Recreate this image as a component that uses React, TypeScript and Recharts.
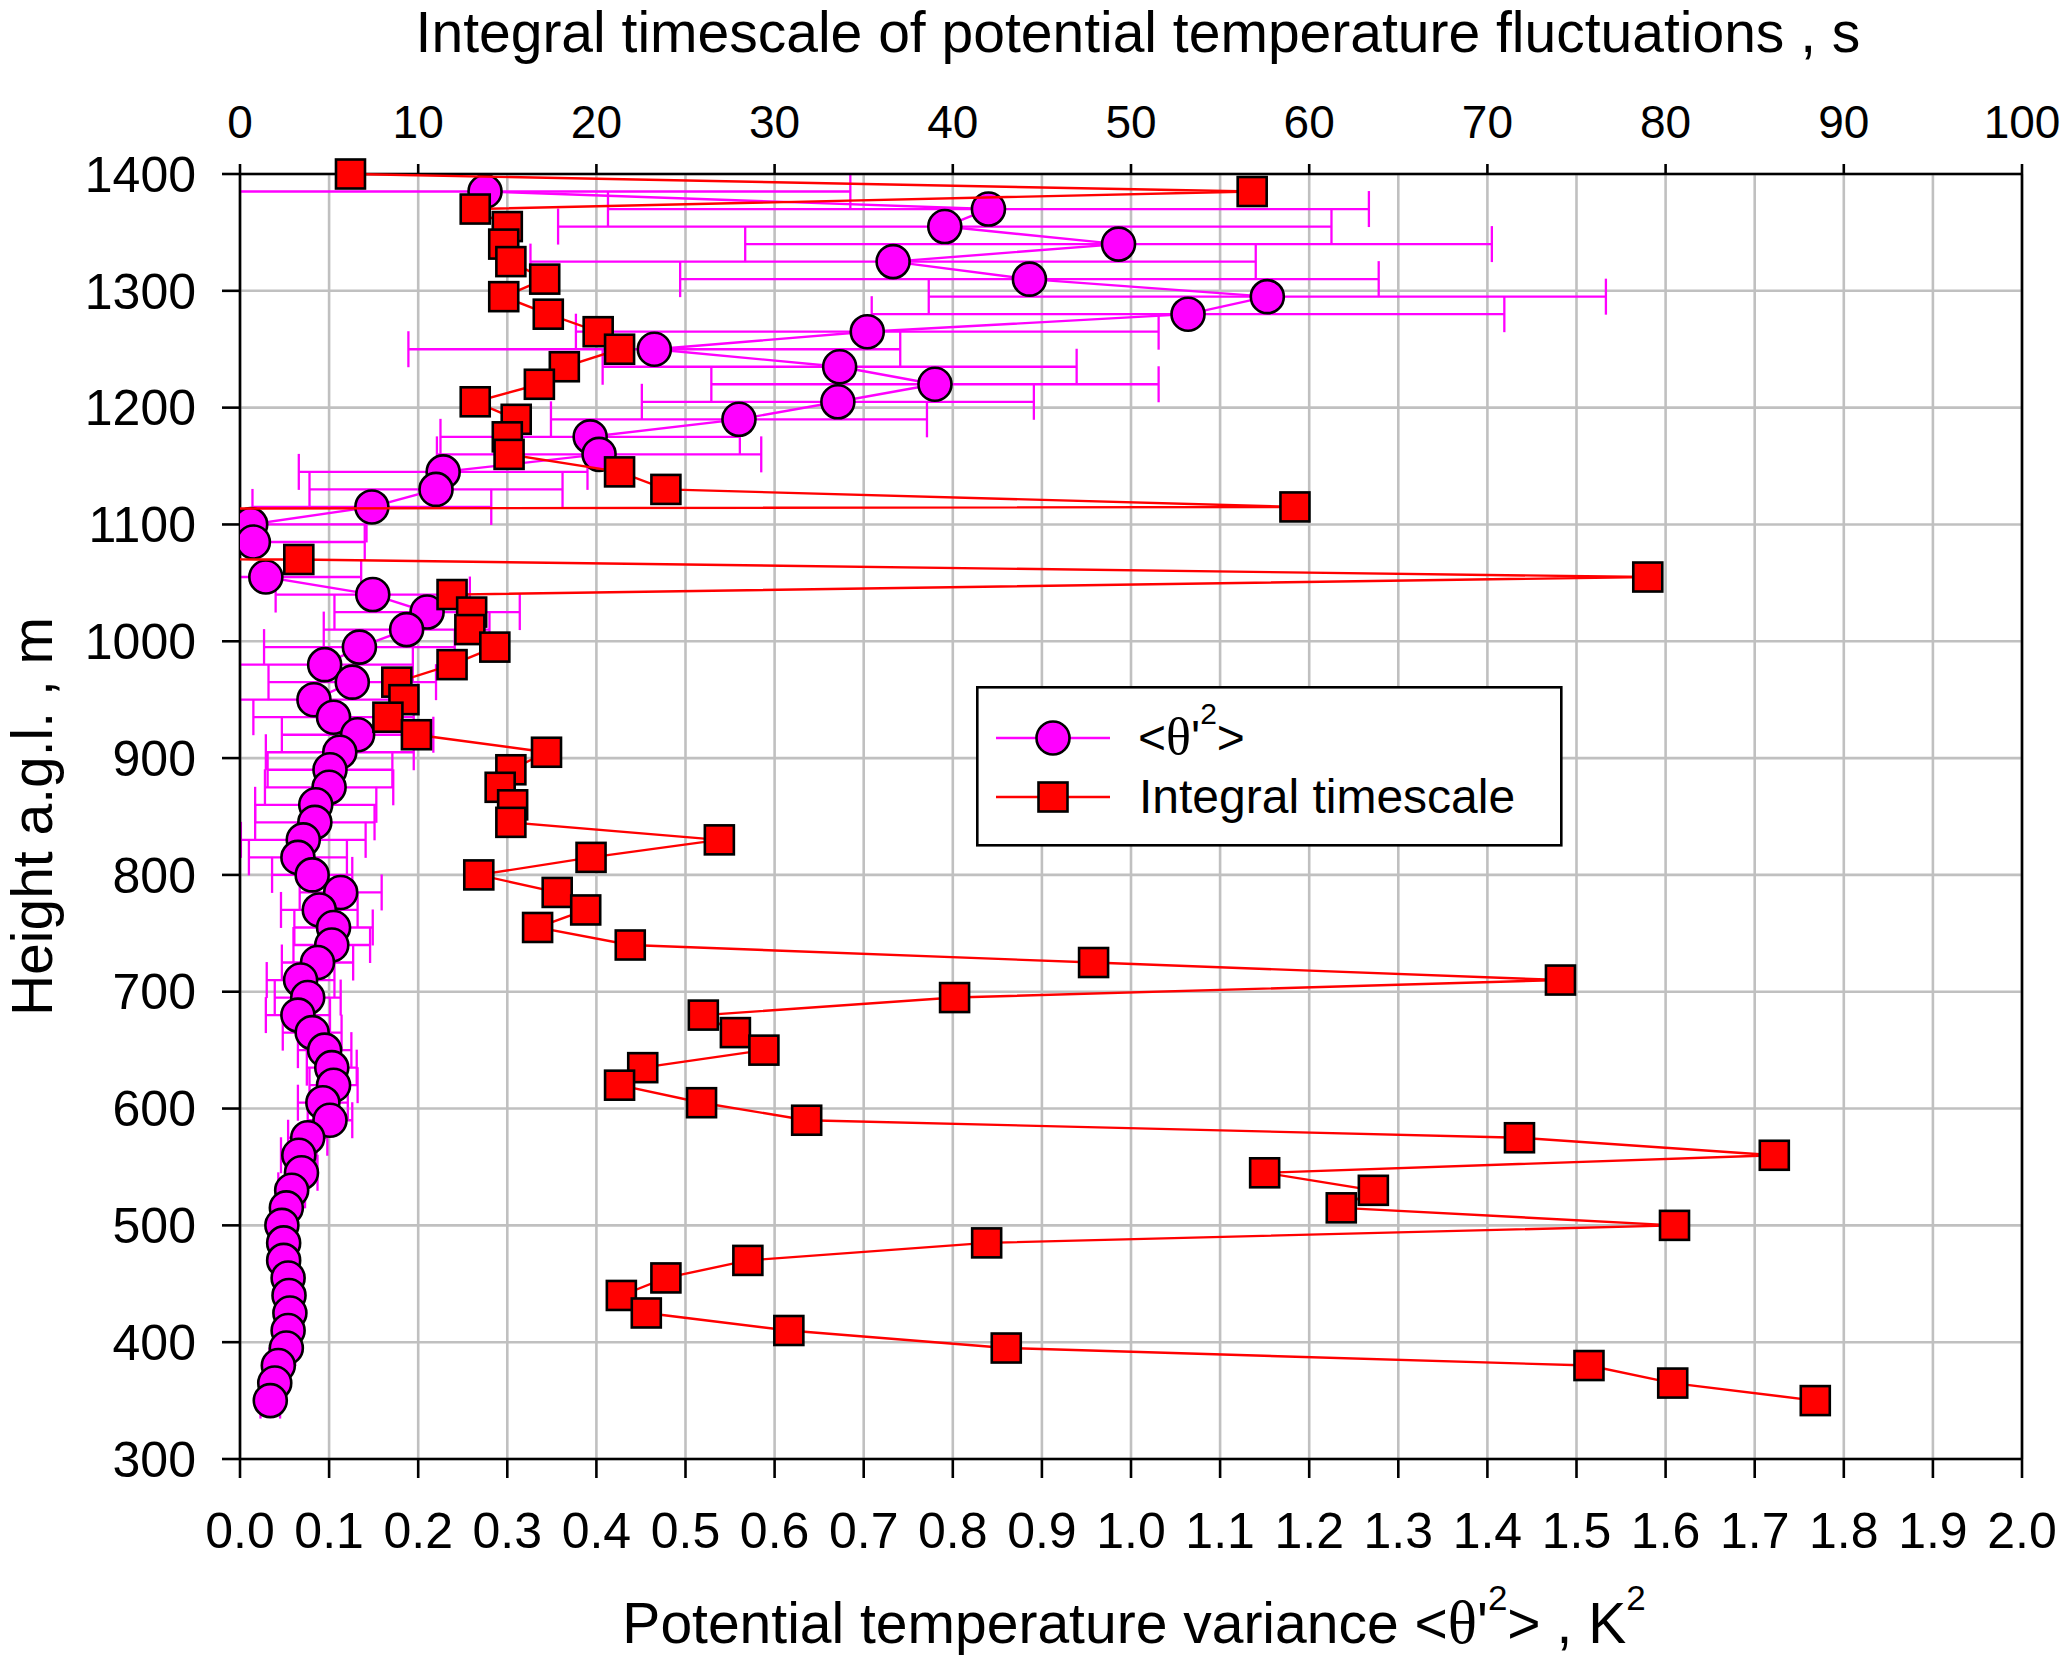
import React from 'react';
import * as Recharts from 'recharts';
import {
  ScatterChart,
  Scatter,
  XAxis,
  YAxis,
  CartesianGrid,
  ErrorBar,
  ReferenceLine,
  Legend,
  Label,
} from 'recharts';

const FONT = '"Liberation Sans", Arial, sans-serif';
const SERIF = '"Liberation Serif", "Times New Roman", serif';
const MAGENTA = '#FF00FF';
const RED = '#FF0000';
const GRID = '#C0C0C0';

// ---- tick labels ----
const varianceTicks = [0, 0.1, 0.2, 0.3, 0.4, 0.5, 0.6, 0.7, 0.8, 0.9, 1.0, 1.1, 1.2, 1.3, 1.4, 1.5, 1.6, 1.7, 1.8, 1.9, 2.0];
const timescaleTicks = [0, 10, 20, 30, 40, 50, 60, 70, 80, 90, 100];
const heightTicks = [300, 400, 500, 600, 700, 800, 900, 1000, 1100, 1200, 1300, 1400];

// ---- potential temperature variance <θ'²> (K²), with symmetric error ----
const varianceHeights = [
  1385, 1370, 1355, 1340, 1325, 1310, 1295, 1280, 1265, 1250, 1235, 1220, 1205, 1190, 1175, 1160, 1145, 1130, 1115, 1100,
  1085, 1055, 1040, 1025, 1010, 995, 980, 965, 950, 935, 920, 905, 890, 875, 860, 845, 830, 815, 800, 785,
  770, 755, 740, 725, 710, 695, 680, 665, 650, 635, 620, 605, 590, 575, 560, 545, 530, 515, 500, 485,
  470, 455, 440, 425, 410, 395, 380, 365, 350,
];
const varianceValues = [
  0.275, 0.84, 0.791, 0.986, 0.733, 0.886, 1.153, 1.064, 0.704, 0.465, 0.673, 0.78, 0.671, 0.56, 0.393, 0.403, 0.228, 0.22, 0.148, 0.012,
  0.015, 0.029, 0.149, 0.21, 0.187, 0.134, 0.095, 0.126, 0.083, 0.105, 0.132, 0.112, 0.101, 0.1, 0.085, 0.084, 0.071, 0.065, 0.081, 0.113,
  0.089, 0.105, 0.103, 0.087, 0.068, 0.076, 0.065, 0.081, 0.095, 0.103, 0.105, 0.093, 0.101, 0.076, 0.066, 0.069, 0.058, 0.052, 0.047, 0.049,
  0.049, 0.054, 0.055, 0.056, 0.054, 0.052, 0.043, 0.039, 0.034,
];
const varianceErrors = [
  0.41, 0.427, 0.434, 0.419, 0.407, 0.392, 0.38, 0.355, 0.327, 0.276, 0.266, 0.251, 0.22, 0.211, 0.168, 0.182, 0.162, 0.142, 0.134, 0.13,
  0.125, 0.107, 0.109, 0.104, 0.093, 0.107, 0.099, 0.094, 0.09, 0.09, 0.085, 0.083, 0.07, 0.072, 0.068, 0.067, 0.07, 0.055, 0.045, 0.046,
  0.043, 0.044, 0.043, 0.04, 0.038, 0.037, 0.036, 0.033, 0.03, 0.028, 0.027, 0.028, 0.025, 0.022, 0.02, 0.018, 0.015, 0.012, 0.01, 0.01,
  0.01, 0.01, 0.01, 0.01, 0.01, 0.01, 0.01, 0.01, 0.011,
];

// ---- integral timescale (s); 1100 and 1085 m lie far off the left edge ----
const timescaleHeights = [
  1400, 1385, 1370, 1355, 1340, 1325, 1310, 1295, 1280, 1265, 1250, 1235, 1220, 1205, 1190, 1175, 1160, 1145, 1130, 1115,
  1100, 1085, 1070, 1055, 1040, 1025, 1010, 995, 980, 965, 950, 935, 920, 905, 890, 875, 860, 845, 830, 815,
  800, 785, 770, 755, 740, 725, 710, 695, 680, 665, 650, 635, 620, 605, 590, 575, 560, 545, 530, 515,
  500, 485, 470, 455, 440, 425, 410, 395, 380, 365, 350,
];
const timescaleValues = [
  6.2, 56.8, 13.2, 15.0, 14.8, 15.2, 17.1, 14.8, 17.3, 20.1, 21.3, 18.2, 16.8, 13.2, 15.5, 15.0, 15.1, 21.3, 23.9, 59.2,
  -600, -600, 3.3, 79.0, 11.9, 13.0, 12.9, 14.3, 11.9, 8.8, 9.2, 8.3, 9.9, 17.2, 15.2, 14.6, 15.3, 15.2, 26.9, 19.7,
  13.4, 17.8, 19.4, 16.7, 21.9, 47.9, 74.1, 40.1, 26.0, 27.8, 29.4, 22.6, 21.3, 25.9, 31.8, 71.8, 86.1, 57.5, 63.6, 61.8,
  80.5, 41.9, 28.5, 23.9, 21.4, 22.8, 30.8, 43.0, 75.7, 80.4, 88.4,
];

const varianceData = varianceHeights.map((h, i) => ({ h, v: varianceValues[i], err: varianceErrors[i] }));
const timescaleData = timescaleHeights.map((h, i) => ({ h, t: timescaleValues[i] }));

const usePlotAreaHook: any = (Recharts as any).usePlotArea;
const useOffsetHook: any = (Recharts as any).useOffset;
const useWidthHook: any = (Recharts as any).useChartWidth;
const useHeightHook: any = (Recharts as any).useChartHeight;

// clip rectangle for the error bars = the plot area
const PlotClip = () => {
  let area: any = null;
  if (usePlotAreaHook) {
    area = usePlotAreaHook();
  } else if (useOffsetHook && useWidthHook && useHeightHook) {
    const off = useOffsetHook();
    const w = useWidthHook();
    const hh = useHeightHook();
    if (off && w && hh) area = { x: off.left, y: off.top, width: w - off.left - off.right, height: hh - off.top - off.bottom };
  }
  if (!area) return null;
  return (
    <defs>
      <clipPath id="plotAreaClip" clipPathUnits="userSpaceOnUse">
        <rect x={area.x} y={area.y - 60} width={area.width} height={area.height + 120} />
      </clipPath>
    </defs>
  );
};

const CircleShape = (props: any) => (
  <circle cx={props.cx} cy={props.cy} r={16.5} fill={MAGENTA} stroke="#000" strokeWidth={2.6} />
);
const SquareShape = (props: any) => (
  <rect x={props.cx - 14.5} y={props.cy - 14.5} width={29} height={29} fill={RED} stroke="#000" strokeWidth={2.6} />
);

const LegendBox = () => (
  <svg width={587} height={161} style={{ display: 'block' }}>
    <rect x={1.3} y={1.3} width={584} height={158} fill="#fff" stroke="#000" strokeWidth={2.6} />
    <line x1={20} x2={134} y1={52} y2={52} stroke={MAGENTA} strokeWidth={2.6} />
    <circle cx={77} cy={52} r={16.5} fill={MAGENTA} stroke="#000" strokeWidth={2.6} />
    <text x={162} y={68} fontSize={48} fontFamily={FONT} fill="#000">
      &lt;<tspan fontFamily={SERIF} fontSize={52}>θ</tspan>'
      <tspan dy={-30} fontSize={30}>2</tspan>
      <tspan dy={30}>&gt;</tspan>
    </text>
    <line x1={20} x2={134} y1={111} y2={111} stroke={RED} strokeWidth={2.6} />
    <rect x={77 - 14.5} y={111 - 14.5} width={29} height={29} fill={RED} stroke="#000" strokeWidth={2.6} />
    <text x={163} y={127} fontSize={48} fontFamily={FONT} fill="#000">
      Integral timescale
    </text>
  </svg>
);

const BottomTitle = (p: any) => {
  const vb = p.viewBox;
  return (
    <text x={vb.x + vb.width / 2 + 3} y={vb.y + vb.height - 15} textAnchor="middle" fontSize={57} fontFamily={FONT} fill="#000">
      Potential temperature variance &lt;<tspan fontFamily={SERIF} fontSize={61}>θ</tspan>'
      <tspan dy={-33} fontSize={35}>2</tspan>
      <tspan dy={33}>&gt; , K</tspan>
      <tspan dy={-33} fontSize={35}>2</tspan>
    </text>
  );
};

const TopTitle = (p: any) => {
  const vb = p.viewBox;
  return (
    <text x={vb.x + vb.width / 2 + 7} y={vb.y + 52} textAnchor="middle" fontSize={57} fontFamily={FONT} fill="#000">
      Integral timescale of potential temperature fluctuations , s
    </text>
  );
};

const LeftTitle = (p: any) => {
  const vb = p.viewBox;
  const cx = 52;
  const cy = vb.y + vb.height / 2;
  return (
    <text x={cx} y={cy} transform={`rotate(-90, ${cx}, ${cy})`} textAnchor="middle" fontSize={57} fontFamily={FONT} fill="#000">
      Height a.g.l. , m
    </text>
  );
};

const axisLine = { stroke: '#000', strokeWidth: 2.6 };

export default function App() {
  return (
    <div style={{ position: 'absolute', left: 0, top: 0, width: 2067, height: 1658, background: '#fff' }}>
      <style>{`.recharts-errorBars, .recharts-errorBar { clip-path: url(#plotAreaClip); }`}</style>
      <ScatterChart width={2067} height={1658} margin={{ top: 0, right: 45, bottom: 0, left: 0 }}>
        <PlotClip />
        <CartesianGrid xAxisId="bottom" stroke={GRID} strokeWidth={2.6} />
        <XAxis
          xAxisId="bottom"
          orientation="bottom"
          type="number"
          dataKey="v"
          domain={[0, 2]}
          allowDataOverflow
          ticks={varianceTicks}
          interval={0}
          tickFormatter={(v: number) => v.toFixed(1)}
          height={199}
          tickSize={19}
          tickMargin={34}
          axisLine={axisLine}
          tickLine={axisLine}
          tick={{ fontSize: 50, fill: '#000', fontFamily: FONT }}
        >
          <Label content={BottomTitle} />
        </XAxis>
        <XAxis
          xAxisId="top"
          orientation="top"
          type="number"
          dataKey="t"
          domain={[0, 100]}
          allowDataOverflow
          ticks={timescaleTicks}
          interval={0}
          height={174}
          tickSize={10}
          tickMargin={26}
          axisLine={axisLine}
          tickLine={axisLine}
          tick={{ fontSize: 46, fill: '#000', fontFamily: FONT }}
        >
          <Label content={TopTitle} />
        </XAxis>
        <YAxis
          type="number"
          dataKey="h"
          domain={[300, 1400]}
          ticks={heightTicks}
          interval={0}
          width={240}
          tickSize={18}
          tickMargin={26}
          axisLine={axisLine}
          tickLine={axisLine}
          tick={{ fontSize: 50, fill: '#000', fontFamily: FONT }}
        >
          <Label content={LeftTitle} />
        </YAxis>
        <ReferenceLine xAxisId="bottom" x={2} stroke="#000" strokeWidth={2.6} />
        <Scatter
          name="<θ'2>"
          xAxisId="bottom"
          data={varianceData}
          line={{ stroke: MAGENTA, strokeWidth: 2.4 }}
          lineType="joint"
          shape={CircleShape}
          isAnimationActive={false}
        >
          <ErrorBar
            dataKey="err"
            direction="x"
            width={18}
            stroke={MAGENTA}
            strokeWidth={2.3}
            clipPath="url(#plotAreaClip)"
          />
        </Scatter>
        <Scatter
          name="Integral timescale"
          xAxisId="top"
          data={timescaleData}
          line={{ stroke: RED, strokeWidth: 2.4 }}
          lineType="joint"
          shape={SquareShape}
          isAnimationActive={false}
        />
        <Legend
          verticalAlign="middle"
          align="center"
          layout="horizontal"
          content={() => <LegendBox />}
          wrapperStyle={{ position: 'absolute', left: 976, top: 686, width: 587, height: 161 }}
        />
      </ScatterChart>
    </div>
  );
}
